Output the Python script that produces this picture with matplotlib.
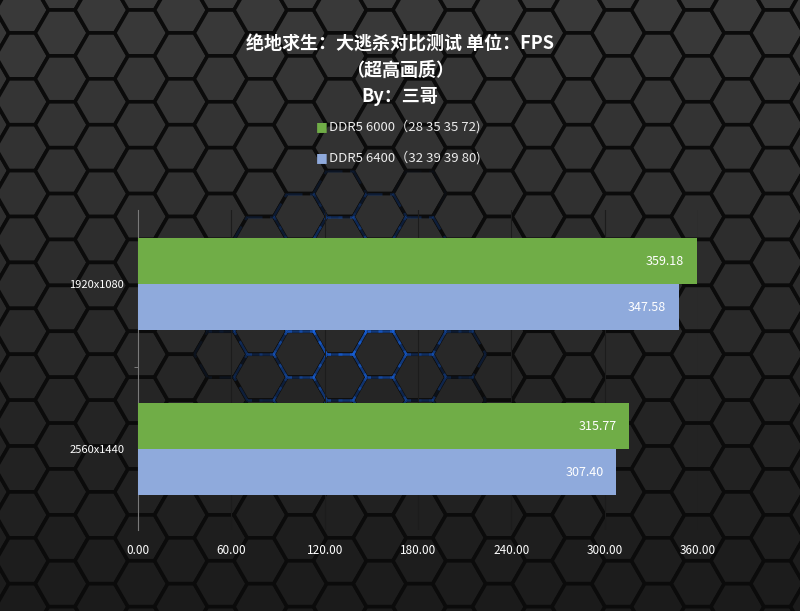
import numpy as np
import matplotlib
matplotlib.use("Agg")
import matplotlib.pyplot as plt
from matplotlib.collections import PolyCollection, LineCollection

plt.rcParams['font.family'] = ['Noto Sans CJK SC', 'DejaVu Sans']

categories = ["1920x1080", "2560x1440"]
ddr5_6000 = [359.18, 315.77]
ddr5_6400 = [347.58, 307.40]
series_names = ["DDR5 6000（28 35 35 72)", "DDR5 6400（32 39 39 80)"]
xticks = [0, 60, 120, 180, 240, 300, 360]

green = "#70AD47"
blue = "#8FAADC"

fig = plt.figure(figsize=(8, 6.11), dpi=100)

# hexagon background
bg = fig.add_axes([0, 0, 1, 1], zorder=-5)
bg.set_xlim(0, 800)
bg.set_ylim(611, 0)
bg.axis("off")
r = 26.5
h = np.sqrt(3) * r
ang = np.radians(np.arange(0, 360, 60))
polys, fills, blue_edges, blue_alpha = [], [], [], []
gc = np.array([350, 320])
for i in range(-1, 24):
    cx = 22 + i * 1.5 * r
    off = (h / 2) if i % 2 else 0
    for j in range(-1, 16):
        cy = 10 + j * h + off
        pts = np.column_stack([cx + r * np.cos(ang), cy + r * np.sin(ang)])
        polys.append(pts)
        t = min(max(cy / 611, 0), 1)
        g = 0.225 - 0.12 * t
        fills.append((g, g, g))
        d = np.hypot(cx - gc[0], (cy - gc[1]) * 1.0)
        if d < 150:
            a = max(0, 1 - d / 150)
            for k in range(6):
                blue_edges.append([pts[k], pts[(k + 1) % 6]])
                blue_alpha.append(a)
bg.add_collection(PolyCollection(polys, facecolors=fills, edgecolors="#0b0b0b", linewidths=2.6))
bc = [(0.1, 0.42, 0.95, a * 0.7) for a in blue_alpha]
bg.add_collection(LineCollection(blue_edges, colors=bc, linewidths=1.8, linestyles=(0, (6, 3))))

# titles
fig.text(0.5, 1 - 44 / 611, "绝地求生：大逃杀对比测试 单位：FPS", ha="center", va="center",
         color="white", fontsize=13, fontweight="bold")
fig.text(0.5, 1 - 70 / 611, "（超高画质）", ha="center", va="center",
         color="white", fontsize=13, fontweight="bold")
fig.text(0.5, 1 - 97 / 611, "By：三哥", ha="center", va="center",
         color="white", fontsize=13, fontweight="bold")

# legend
for k, (name, c) in enumerate(zip(series_names, [green, blue])):
    yy = 1 - (127 + 31 * k) / 611
    fig.text(0.4025, yy, "■", ha="center", va="center", color=c, fontsize=9,
             family=["DejaVu Sans"])
    fig.text(0.411, yy, name, ha="left", va="center", color="#ececec", fontsize=9.5)

ax = fig.add_axes([138 / 800, 1 - 530 / 611, 560 / 800, 320 / 611])
ax.patch.set_alpha(0)
y = np.arange(len(categories))
bh = 0.28
ax.barh(y - bh / 2, ddr5_6000, height=bh, color=green, zorder=3)
ax.barh(y + bh / 2, ddr5_6400, height=bh, color=blue, zorder=3)
for i in range(len(categories)):
    ax.text(ddr5_6000[i] - 8, y[i] - bh / 2, f"{ddr5_6000[i]:.2f}", ha="right", va="center",
            color="white", fontsize=9, zorder=4)
    ax.text(ddr5_6400[i] - 8, y[i] + bh / 2, f"{ddr5_6400[i]:.2f}", ha="right", va="center",
            color="white", fontsize=9, zorder=4)

ax.set_xlim(0, 360)
ax.set_ylim(1.49, -0.45)
ax.set_xticks(xticks)
ax.set_xticklabels([f"{v:.2f}" for v in xticks])
ax.set_yticks(y)
ax.set_yticklabels(categories)
ax.set_yticks([0.5], minor=True)
ax.tick_params(axis="y", which="major", length=0, pad=10, colors="white", labelsize=8)
ax.tick_params(axis="y", which="minor", length=3, color="#888888")
ax.tick_params(axis="x", length=0, pad=10, colors="white", labelsize=8.5)
ax.grid(axis="x", color="#1c1c1c", linewidth=0.8, zorder=0)
for s in ["top", "right", "bottom"]:
    ax.spines[s].set_visible(False)
ax.spines["left"].set_color("#7a7a7a")
ax.spines["left"].set_linewidth(0.8)

fig.savefig("out.png", dpi=100)
